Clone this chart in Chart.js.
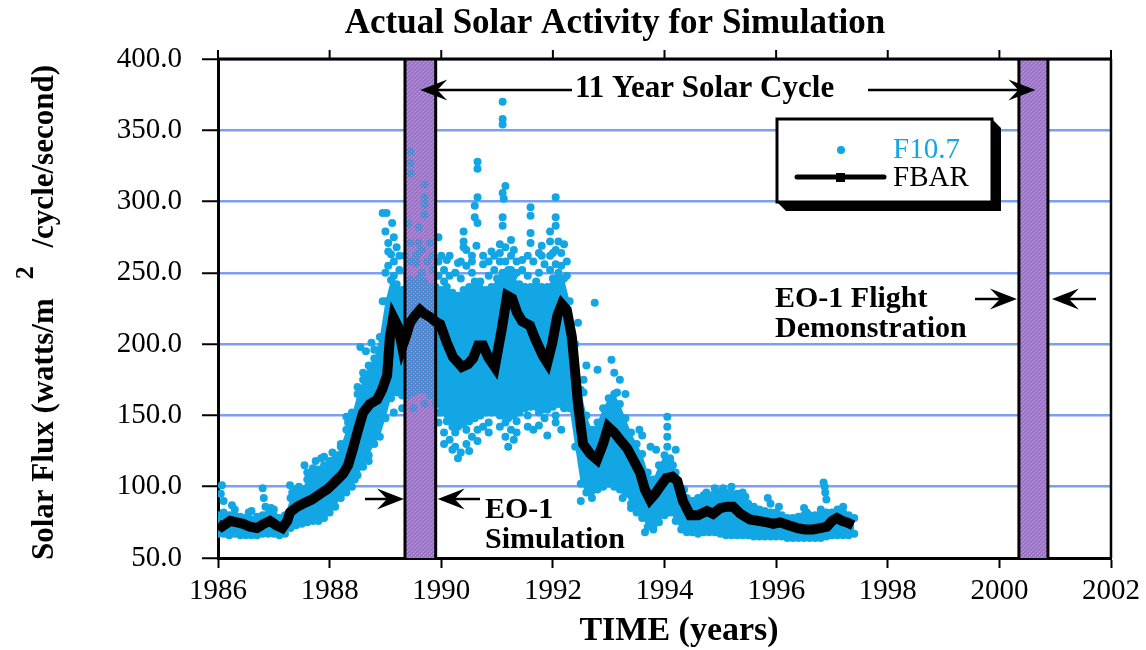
<!DOCTYPE html>
<html><head><meta charset="utf-8">
<script src="https://cdn.jsdelivr.net/npm/chart.js@4.4.1/dist/chart.umd.min.js"></script>
<style>html,body{margin:0;padding:0;background:#fff}canvas{display:block}</style>
</head><body>
<canvas id="c" width="1146" height="650"></canvas>
<script>
// ---------- DATA ----------
const xTicks = [1986, 1988, 1990, 1992, 1994, 1996, 1998, 2000, 2002];
const xTickLabels = ['1986','1988','1990','1992','1994','1996','1998','2000','2002'];
const yTicks = [50, 100, 150, 200, 250, 300, 350, 400];
const yTickLabels = ['50.0','100.0','150.0','200.0','250.0','300.0','350.0','400.0'];

// EO-1 simulation period and flight demonstration period (years)
const simBand = [1989.35, 1989.9];
const flightBand = [2000.35, 2000.87];

// FBAR (81-day average)
const fbarYears = [1986.00,1986.07,1986.22,1986.34,1986.45,1986.57,1986.70,1986.82,1986.93,1987.04,1987.15,1987.24,1987.29,1987.42,1987.52,1987.68,1987.83,1987.95,1988.06,1988.24,1988.33,1988.42,1988.51,1988.60,1988.72,1988.85,1988.94,1989.03,1989.08,1989.14,1989.23,1989.30,1989.37,1989.44,1989.53,1989.62,1989.71,1989.80,1989.89,1989.98,1990.10,1990.21,1990.37,1990.48,1990.57,1990.66,1990.75,1990.84,1990.96,1991.09,1991.18,1991.27,1991.36,1991.45,1991.59,1991.68,1991.82,1991.90,1991.99,1992.08,1992.16,1992.25,1992.34,1992.40,1992.45,1992.54,1992.67,1992.79,1992.90,1992.99,1993.10,1993.20,1993.33,1993.44,1993.56,1993.65,1993.74,1993.83,1993.92,1994.03,1994.14,1994.23,1994.33,1994.46,1994.60,1994.76,1994.87,1995.00,1995.12,1995.23,1995.36,1995.53,1995.68,1995.84,1995.95,1996.07,1996.22,1996.38,1996.52,1996.66,1996.79,1996.91,1997.00,1997.09,1997.18,1997.27,1997.38];
const fbarValues = [74,72,76,75,74,72,71,74,76,73,71,76,82,86,88,91,95,98,102,109,115,127,140,152,158,161,168,178,205,219,212,198,206,215,220,224,221,219,216,214,201,191,184,186,190,199,199,191,184,212,234,232,222,216,213,204,192,187,201,220,228,224,205,180,158,130,123,119,130,142,138,133,127,119,110,98,91,95,100,106,107,104,90,80,80,83,81,85,86,86,81,77,76,75,74,75,73,71,70,70,71,72,76,78,76,75,73];

// F10.7 daily values: dense core of the cloud [year, low, high]
const f107Core = [
[1986.0,67,80],[1986.1,67,82],[1986.2,66,80],[1986.3,67,80],[1986.4,66,79],[1986.5,66,78],[1986.6,66,77],[1986.7,66,79],[1986.8,67,80],[1986.9,67,81],
[1987.0,67,80],[1987.1,66,78],[1987.2,67,80],[1987.3,71,92],[1987.4,73,95],[1987.5,74,98],[1987.6,75,105],[1987.7,76,108],[1987.8,76,112],[1987.9,78,115],
[1988.0,82,118],[1988.1,86,120],[1988.2,92,128],[1988.3,96,140],[1988.4,100,150],[1988.5,108,165],[1988.6,114,175],[1988.7,122,185],[1988.8,130,190],[1988.9,135,205],
[1989.0,148,230],[1989.1,162,245],[1989.2,166,242],[1989.3,164,238],[1989.4,164,240],[1989.5,166,244],[1989.6,168,246],[1989.7,168,244],[1989.8,164,240],[1989.9,158,240],
[1990.0,152,238],[1990.1,146,240],[1990.2,142,236],[1990.3,142,234],[1990.4,144,238],[1990.5,146,240],[1990.6,148,244],[1990.7,150,244],[1990.8,152,238],[1990.9,152,240],
[1991.0,152,246],[1991.1,150,250],[1991.2,148,252],[1991.3,150,248],[1991.4,152,242],[1991.5,155,240],[1991.6,156,240],[1991.7,156,244],[1991.8,154,240],[1991.9,154,240],
[1992.0,156,246],[1992.1,158,250],[1992.2,160,246],[1992.3,155,230],[1992.4,128,200],[1992.5,102,168],[1992.6,96,150],[1992.7,97,140],[1992.8,98,145],[1992.9,100,155],
[1993.0,102,162],[1993.1,100,165],[1993.2,98,158],[1993.3,95,148],[1993.4,88,138],[1993.5,82,130],[1993.6,78,123],[1993.7,72,110],[1993.8,72,105],[1993.9,75,115],
[1994.0,80,122],[1994.1,82,120],[1994.2,76,110],[1994.3,70,96],[1994.4,68,92],[1994.5,68,90],[1994.6,67,92],[1994.7,68,94],[1994.8,68,94],[1994.9,68,95],
[1995.0,67,96],[1995.1,66,96],[1995.2,66,95],[1995.3,66,95],[1995.4,66,92],[1995.5,66,88],[1995.6,65,86],[1995.7,65,84],[1995.8,65,83],[1995.9,65,82],
[1996.0,65,82],[1996.1,65,80],[1996.2,64,78],[1996.3,64,78],[1996.4,64,79],[1996.5,64,80],[1996.6,64,80],[1996.7,64,80],[1996.8,64,84],[1996.9,65,82],
[1997.0,66,82],[1997.1,66,84],[1997.2,66,82],[1997.3,66,80],[1997.4,67,78]
];

// F10.7 scattered daily values outside the dense core [year, value]
const f107Outliers = [
[1986.05,95],[1986.07,101],[1986.1,90],[1986.25,87],[1986.3,84],[1986.55,82],[1986.6,83],[1986.8,99],[1986.82,92],[1986.85,86],[1986.95,85],[1987.0,84],
[1987.29,101],[1987.33,96],[1987.4,98],[1987.45,100],[1987.55,115],[1987.6,110],[1987.7,113],[1987.75,118],[1987.85,120],[1987.9,121],
[1988.05,124],[1988.15,122],[1988.2,130],[1988.3,149],[1988.33,145],[1988.4,152],[1988.45,105],[1988.5,170],[1988.55,198],[1988.6,180],[1988.65,195],[1988.7,118],[1988.75,201],[1988.8,196],
[1988.95,292],[1988.95,230],[1989.0,279],[1989.0,250],[1989.02,292],[1989.05,271],[1989.1,263],[1989.12,285],[1989.15,275],[1989.15,152],[1989.2,268],[1989.25,262],[1989.3,155],
[1989.45,335],[1989.45,327],[1989.45,320],[1989.7,312],[1989.7,303],[1989.7,298],[1989.7,291],[1989.4,285],[1989.6,282],[1989.45,271],[1989.6,271],[1989.8,271],[1989.6,264],[1989.55,257],[1989.5,155],[1989.7,158],
[1989.95,275],[1990.0,262],[1990.1,259],[1990.3,257],[1990.4,279],[1990.4,272],[1990.4,268],[1990.2,126],[1990.3,120],[1990.35,124],[1990.5,125],
[1990.65,328],[1990.65,323],[1990.65,303],[1990.6,297],[1990.6,289],[1990.65,285],[1990.63,269],[1990.45,266],[1990.55,262],
[1991.1,370],[1991.1,358],[1991.1,354],[1991.15,311],[1991.1,306],[1991.12,302],[1991.1,289],[1991.1,283],[1991.25,273],[1991.3,266],[1991.05,270],[1990.9,265],[1991.2,128],[1991.3,133],
[1991.6,296],[1991.6,290],[1991.6,278],[1991.6,271],[1991.8,269],[1991.45,259],[1991.8,262],[1991.65,140],[1991.9,136],
[1992.05,303],[1992.05,289],[1992.05,283],[1991.95,279],[1991.95,272],[1992.1,272],[1992.0,264],[1992.2,270],[1992.15,140],
[1992.45,215],[1992.55,175],[1992.55,166],[1992.6,185],[1992.75,229],[1992.8,182],[1992.5,90],[1992.7,92],
[1993.05,189],[1993.1,180],[1993.15,166],[1993.2,175],[1993.3,165],[1993.0,105],[1993.25,92],[1993.4,85],
[1993.55,140],[1993.6,136],[1993.75,128],[1993.65,68],[1993.8,70],[1993.85,126],
[1994.05,149],[1994.05,142],[1994.05,135],[1994.05,128],[1994.1,119],[1994.15,115],[1994.2,126],[1994.35,98],
[1994.75,96],[1994.9,99],[1995.05,99],[1995.2,100],[1995.4,96],[1995.45,93],[1995.85,92],[1995.9,88],[1996.05,86],[1996.5,85],[1996.55,82],
[1996.85,103],[1996.87,100],[1996.88,96],[1996.9,91],[1997.2,86],
// ragged upper edge of the 1989-1992 cloud
[1989.05,255],[1989.05,265],[1989.15,258],[1989.15,248],[1989.25,252],[1989.35,262],[1989.45,258],[1989.45,245],[1989.55,262],[1989.65,250],[1989.65,266],[1989.75,258],[1989.85,252],[1989.85,262],
[1989.95,248],[1989.95,258],[1990.05,252],[1990.05,244],[1990.15,262],[1990.15,248],[1990.25,250],[1990.35,258],[1990.35,246],[1990.45,255],[1990.55,250],[1990.55,258],[1990.75,262],[1990.75,256],[1990.85,258],[1990.85,248],[1990.95,262],[1990.95,252],
[1991.05,258],[1991.05,264],[1991.15,268],[1991.15,258],[1991.25,262],[1991.25,252],[1991.35,258],[1991.35,250],[1991.45,252],[1991.55,262],[1991.55,248],[1991.65,258],[1991.75,264],[1991.75,250],[1991.85,256],[1991.95,262],[1991.95,252],
[1992.05,266],[1992.05,256],[1992.15,264],[1992.15,255],[1992.25,258],[1992.25,248],
// ragged lower edge of the 1989-1992 cloud
[1989.95,145],[1989.95,152],[1990.05,138],[1990.05,130],[1990.15,133],[1990.25,128],[1990.25,138],[1990.45,130],[1990.45,140],[1990.55,135],[1990.65,140],[1990.65,132],[1990.75,142],[1990.85,145],[1990.85,138],
[1991.05,142],[1991.05,150],[1991.15,135],[1991.15,145],[1991.25,140],[1991.35,146],[1991.35,138],[1991.55,142],[1991.55,150],[1991.75,152],[1991.75,143],[1991.85,148],[1992.05,150],[1992.05,145],[1992.2,155]
];

// ---------- STYLE ----------
const BLUE = '#12a6e4';
const GRID = '#7d9ef5';
const SERIF = '"Liberation Serif", "Times New Roman", serif';

function makePurple(solid) {
  const c = document.createElement('canvas'); c.width = 4; c.height = 4;
  const g = c.getContext('2d');
  if (solid) { g.fillStyle = '#a47fcc'; g.fillRect(0,0,4,4); }
  g.fillStyle = '#9068bb'; g.fillRect(0,0,1,1); g.fillRect(2,2,1,1); g.fillRect(1,3,1,1); g.fillRect(3,1,1,1);
  g.fillStyle = '#b898d8'; g.fillRect(1,1,1,1); g.fillRect(3,3,1,1);
  return g.createPattern(c, 'repeat');
}

function arrow(ctx, x1, y1, x2, y2) {
  const dx = x2 - x1, dy = y2 - y1, len = Math.hypot(dx, dy);
  const ux = dx / len, uy = dy / len, px = -uy, py = ux;
  const L = 27, W = 10.5, N = 17;
  ctx.save();
  ctx.strokeStyle = '#000'; ctx.fillStyle = '#000'; ctx.lineWidth = 2.5;
  ctx.beginPath(); ctx.moveTo(x1, y1); ctx.lineTo(x2 - N*ux, y2 - N*uy); ctx.stroke();
  ctx.beginPath();
  ctx.moveTo(x2, y2);
  ctx.lineTo(x2 - L*ux + W*px, y2 - L*uy + W*py);
  ctx.lineTo(x2 - N*ux, y2 - N*uy);
  ctx.lineTo(x2 - L*ux - W*px, y2 - L*uy - W*py);
  ctx.closePath(); ctx.fill();
  ctx.restore();
}

function fillBands(chart, pat) {
  const ctx = chart.ctx, X = chart.scales.x, ca = chart.chartArea;
  ctx.save();
  [simBand, flightBand].forEach(b => {
    const x1 = X.getPixelForValue(b[0]), x2 = X.getPixelForValue(b[1]);
    ctx.fillStyle = pat;
    ctx.fillRect(x1, ca.top, x2 - x1, ca.bottom - ca.top);
  });
  ctx.restore();
}

const decor = {
  id: 'decor',
  beforeDatasetsDraw(chart) { fillBands(chart, makePurple(true)); },
  afterDatasetDraw(chart, args) {
    // hatch of the bands lies over the F10.7 dots, under FBAR
    if (args.index === 2) fillBands(chart, makePurple(false));
  },
  afterDatasetsDraw(chart) {
    const ctx = chart.ctx, X = chart.scales.x, ca = chart.chartArea;
    ctx.save();
    ctx.strokeStyle = '#000';
    ctx.lineWidth = 3;
    [simBand, flightBand].forEach(b => {
      [b[0], b[1]].forEach(v => {
        const x = X.getPixelForValue(v);
        ctx.beginPath(); ctx.moveTo(x, ca.top); ctx.lineTo(x, ca.bottom); ctx.stroke();
      });
    });
    ctx.lineWidth = 3;
    ctx.beginPath(); ctx.moveTo(ca.left, ca.top); ctx.lineTo(ca.right, ca.top); ctx.stroke();
    ctx.lineWidth = 2.5;
    ctx.beginPath(); ctx.moveTo(ca.right, ca.top); ctx.lineTo(ca.right, ca.bottom); ctx.stroke();
    ctx.lineWidth = 2;
    xTicks.forEach(v => {
      const x = X.getPixelForValue(v);
      ctx.beginPath(); ctx.moveTo(x, ca.top - 9); ctx.lineTo(x, ca.top); ctx.stroke();
    });
    ctx.restore();
  },
  afterDraw(chart) {
    const ctx = chart.ctx, X = chart.scales.x;
    ctx.save();
    ctx.fillStyle = '#000';
    ctx.textBaseline = 'alphabetic';
    ctx.font = 'bold 35px ' + SERIF;
    ctx.textAlign = 'center';
    ctx.fillText('Actual Solar Activity for Simulation', 615, 33);
    ctx.font = 'bold 34px ' + SERIF;
    ctx.fillText('TIME (years)', 679, 640);
    // y title (rotated)
    ctx.save();
    ctx.translate(53, 560);
    ctx.rotate(-Math.PI / 2);
    ctx.textAlign = 'left';
    ctx.font = 'bold 31px ' + SERIF;
    const s1 = 'Solar Flux (watts/m', s3 = '/cycle/second)';
    const w1 = ctx.measureText(s1).width, w3 = ctx.measureText(s3).width;
    ctx.font = 'bold 26px ' + SERIF;
    const w2 = ctx.measureText('2').width;
    const gap = (495 - w1 - w2 - w3) / 2;
    ctx.font = 'bold 31px ' + SERIF;
    ctx.fillText(s1, 0, 0);
    ctx.fillText(s3, w1 + w2 + 2*gap, 0);
    ctx.font = 'bold 26px ' + SERIF;
    ctx.fillText('2', w1 + gap, -20);
    ctx.restore();

    ctx.textAlign = 'left';
    ctx.font = 'bold 31px ' + SERIF;
    ctx.fillText('11 Year Solar Cycle', 575, 97);
    const simMid = X.getPixelForValue((simBand[0] + simBand[1]) / 2);
    const flMid = X.getPixelForValue((flightBand[0] + flightBand[1]) / 2);
    arrow(ctx, 572, 90, simMid, 90);
    arrow(ctx, 868, 90, flMid + 2, 90);

    ctx.font = 'bold 30px ' + SERIF;
    ctx.fillText('EO-1 Flight', 775, 307);
    ctx.fillText('Demonstration', 775, 337);
    arrow(ctx, 975, 299, X.getPixelForValue(flightBand[0]) - 2, 299);
    arrow(ctx, 1096, 299, X.getPixelForValue(flightBand[1]) + 4, 299);

    ctx.fillText('EO-1', 485, 518);
    ctx.fillText('Simulation', 485, 548);
    arrow(ctx, 365, 499, X.getPixelForValue(simBand[0]) - 1, 499);
    arrow(ctx, 480, 499, X.getPixelForValue(simBand[1]) + 2, 499);

    // legend box with shadow
    const bx = 777, by = 119, bw = 215, bh = 83, sh = 9;
    ctx.fillStyle = '#000';
    ctx.beginPath();
    ctx.moveTo(bx + bw, by); ctx.lineTo(bx + bw + sh, by + sh); ctx.lineTo(bx + bw + sh, by + bh + sh);
    ctx.lineTo(bx + sh, by + bh + sh); ctx.lineTo(bx, by + bh); ctx.lineTo(bx + bw, by + bh); ctx.closePath(); ctx.fill();
    ctx.fillStyle = '#fff'; ctx.fillRect(bx, by, bw, bh);
    ctx.strokeStyle = '#000'; ctx.lineWidth = 3; ctx.strokeRect(bx, by, bw, bh);
    ctx.fillStyle = BLUE;
    ctx.beginPath(); ctx.arc(841, 150, 4, 0, Math.PI * 2); ctx.fill();
    ctx.font = '29px ' + SERIF;
    ctx.fillText('F10.7', 893, 158);
    ctx.strokeStyle = '#000'; ctx.lineWidth = 5; ctx.lineCap = 'round';
    ctx.beginPath(); ctx.moveTo(797, 177); ctx.lineTo(884, 177); ctx.stroke();
    ctx.fillStyle = '#000'; ctx.fillRect(836, 173, 9, 9);
    ctx.fillText('FBAR', 893, 186);
    ctx.restore();
  }
};

const corePts = f107Core.map(r => ({x: r[0], y: r[1]}));
const coreHiPts = f107Core.map(r => ({x: r[0], y: r[2]}));
const dotPts = f107Outliers.map(p => ({x: p[0], y: p[1]}))
  .concat(corePts, coreHiPts);

new Chart(document.getElementById('c'), {
  type: 'scatter',
  data: {
    datasets: [
      {
        type: 'line', data: corePts, borderColor: 'rgba(0,0,0,0)', borderWidth: 0,
        pointRadius: 0, fill: false, tension: 0, order: 4
      },
      {
        type: 'line', data: coreHiPts, borderColor: 'rgba(0,0,0,0)', borderWidth: 0,
        pointRadius: 0, fill: '-1', backgroundColor: BLUE, tension: 0, order: 3
      },
      {
        type: 'scatter', label: 'F10.7', data: dotPts, pointRadius: 4,
        pointBackgroundColor: BLUE, pointBorderWidth: 0, order: 2
      },
      {
        type: 'line', label: 'FBAR', data: fbarYears.map((x, i) => ({x, y: fbarValues[i]})),
        borderColor: '#000', borderWidth: 10, pointRadius: 0, tension: 0, fill: false,
        borderJoinStyle: 'miter', order: 1
      }
    ]
  },
  options: {
    responsive: false, animation: false, devicePixelRatio: 1,
    layout: { padding: { left: 0, top: 59, right: 35, bottom: 0 } },
    plugins: { legend: { display: false }, tooltip: { enabled: false }, title: { display: false } },
    scales: {
      x: {
        type: 'linear', min: 1986, max: 2002,
        afterFit: s => { s.height = 92; },
        afterBuildTicks: s => { s.ticks = xTicks.map(v => ({value: v})); },
        ticks: {
          autoSkip: false, maxRotation: 0, padding: 6, color: '#000',
          font: { family: SERIF, size: 29 },
          callback: v => xTickLabels[xTicks.indexOf(v)]
        },
        grid: { drawOnChartArea: false, tickLength: 10, tickColor: '#000', tickWidth: 2 },
        border: { display: true, color: '#000', width: 3 }
      },
      y: {
        type: 'linear', min: 50, max: 400,
        afterFit: s => { s.width = 218; },
        afterBuildTicks: s => { s.ticks = yTicks.map(v => ({value: v})); },
        ticks: {
          autoSkip: false, padding: 20, color: '#000',
          font: { family: SERIF, size: 29 },
          callback: v => yTickLabels[yTicks.indexOf(v)]
        },
        grid: { color: GRID, lineWidth: 2.5, tickLength: 16, tickColor: '#000', tickWidth: 2 },
        border: { display: true, color: '#000', width: 3 }
      }
    }
  },
  plugins: [decor]
});
</script>
</body></html>
